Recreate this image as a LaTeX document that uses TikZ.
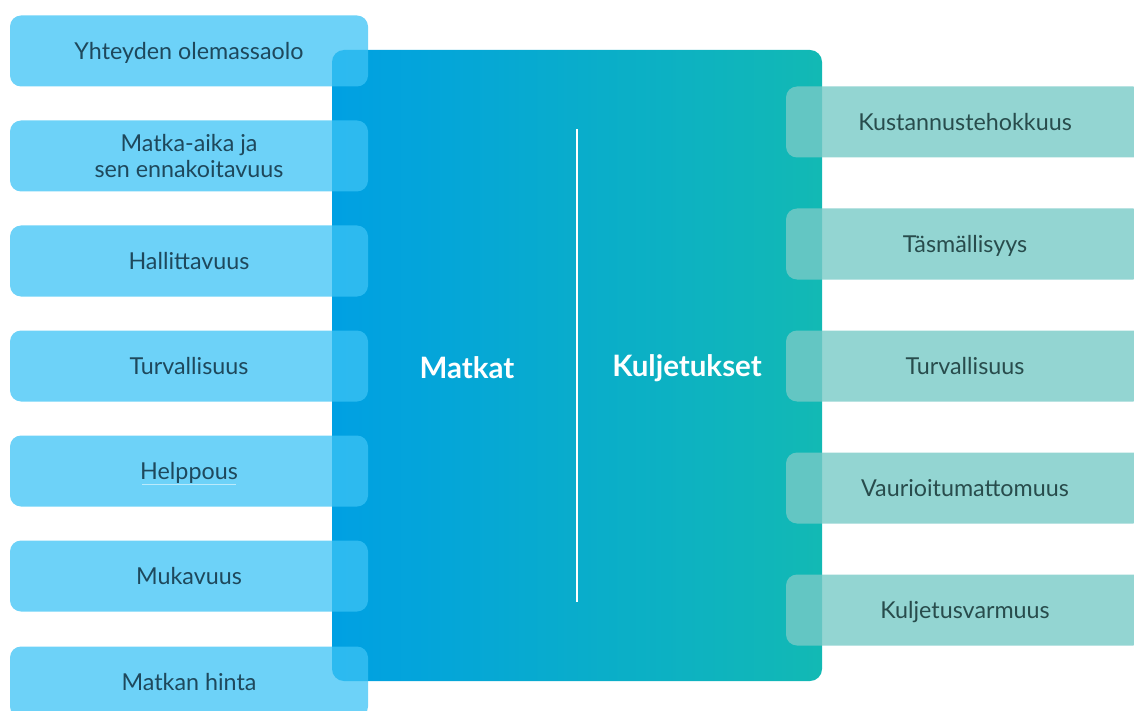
\documentclass[tikz,border=0pt]{standalone}
\usepackage{fontspec}
\setmainfont{Lato}
\definecolor{cleft}{RGB}{0,160,227}
\definecolor{cright}{RGB}{18,185,180}
\definecolor{lboxc}{RGB}{60,195,245}
\definecolor{rboxc}{RGB}{120,202,199}
\definecolor{ltext}{RGB}{30,72,92}
\definecolor{rtext}{RGB}{40,76,76}
\begin{document}
\begin{tikzpicture}[x=1pt,y=-1pt,
  corebox/.style={draw=none,rounded corners=12pt,left color=cleft,right color=cright,
    minimum width=490pt,minimum height=631pt,inner sep=0pt},
  titletext/.style={text=white,font=\fontsize{29.5}{34}\selectfont\bfseries,inner sep=0pt},
  sidebox/.style={draw=none,rounded corners=11pt,minimum width=358pt,minimum height=71pt,
    inner sep=0pt,fill opacity=0.75,text opacity=1,
    font=\fontsize{23.3}{26}\selectfont,text height=16.8pt,text depth=0pt,align=center},
  leftbox/.style={sidebox,fill=lboxc,text=ltext},
  rightbox/.style={sidebox,fill=rboxc,text=rtext,fill opacity=0.8},
  divider/.style={white,line width=2pt},
  underl/.style={white!65!lboxc,line width=0.8pt}
]
\useasboundingbox (0,0) rectangle (1134,711);
\clip (0,0) rectangle (1134,711);

\node[corebox] (core) at (577,365.5) {};
\coordinate (dtop) at (577,129);
\coordinate (dbot) at (577,602);
\draw[divider] (dtop) -- (dbot);

\node[titletext] (matkat) at (467,368) {Matkat};
\node[titletext] (kulj) at (687,368) {Kuljetukset};

\node[leftbox] (l1) at (189,51) {Yhteyden olemassaolo};
\node[leftbox,text height=42.8pt] (l2) at (189,156) {Matka-aika ja\\sen ennakoitavuus};
\node[leftbox] (l3) at (189,261) {Hallittavuus};
\node[leftbox] (l4) at (189,366) {Turvallisuus};
\node[leftbox] (l5) at (189,471) {Helppous};
\node[leftbox] (l6) at (189,576) {Mukavuus};
\node[leftbox] (l7) at (189,682) {Matkan hinta};

\node[rightbox] (r1) at (965,122) {Kustannustehokkuus};
\node[rightbox] (r2) at (965,244) {Täsmällisyys};
\node[rightbox] (r3) at (965,366) {Turvallisuus};
\node[rightbox] (r4) at (965,488) {Vaurioitumattomuus};
\node[rightbox] (r5) at (965,610) {Kuljetusvarmuus};

\coordinate (ulw) at ([shift={(-47,13.5)}]l5.center);
\coordinate (ule) at ([shift={(47,13.5)}]l5.center);
\draw[underl] (ulw) -- (ule);
\end{tikzpicture}
\end{document}
